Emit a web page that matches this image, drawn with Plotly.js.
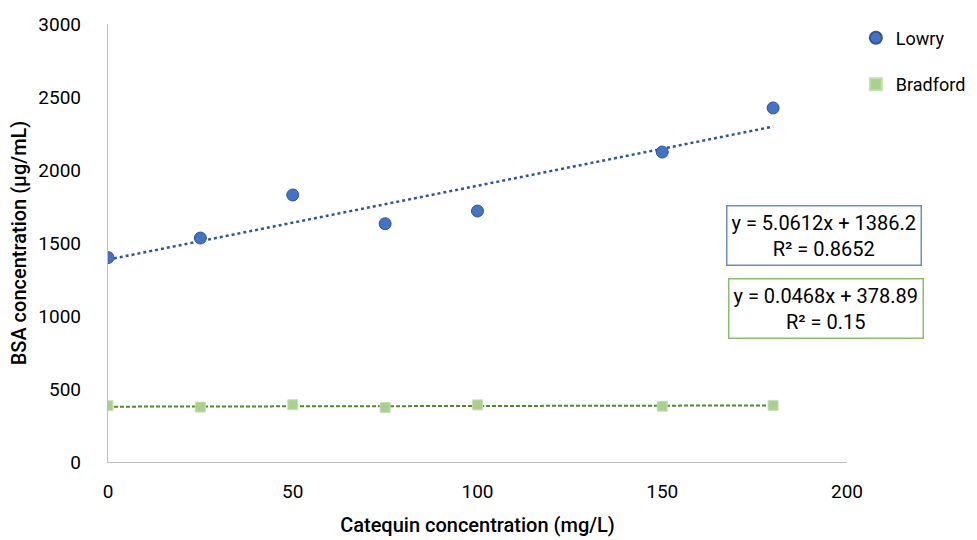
<!DOCTYPE html>
<html>
<head>
<meta charset="utf-8">
<script src="https://cdn.plot.ly/plotly-3.0.1.min.js"></script>
<style>html,body{margin:0;padding:0;background:#fff;}#chart{width:977px;height:540px;}</style>
</head>
<body>
<div id="chart"></div>
<script>
const catequin = [0, 25, 50, 75, 100, 150, 180];
const lowry = [1400, 1534, 1829, 1632, 1719, 2123, 2425];
const bradford = [386, 376, 392, 374, 391, 382, 388];
const lowrySlope = 5.0612, lowryIntercept = 1386.2, lowryR2 = 0.8652;
const bradSlope = 0.0468, bradIntercept = 378.89, bradR2 = 0.15;
const xTicks = [0, 50, 100, 150, 200];
const yTicks = [0, 500, 1000, 1500, 2000, 2500, 3000];

const fitX = [catequin[0], catequin[catequin.length - 1]];
const FONT = 'Roboto, "Liberation Sans", sans-serif';

const traces = [
  {x: fitX, y: fitX.map(v => lowrySlope * v + lowryIntercept), mode: 'lines', showlegend: false, hoverinfo: 'skip',
   line: {color: '#2E55A0', width: 2.5, dash: 'dot'}},
  {x: fitX, y: fitX.map(v => bradSlope * v + bradIntercept), mode: 'lines', showlegend: false, hoverinfo: 'skip',
   line: {color: '#4E8A2E', width: 2, dash: '4px,2px'}},
  {x: catequin, y: lowry, mode: 'markers', name: 'Lowry', legendgroup: 'a',
   marker: {symbol: 'circle', size: 12, color: '#4472C4', line: {color: '#2F5597', width: 1}}},
  {x: catequin, y: bradford, mode: 'markers', name: 'Bradford', legendgroup: 'b',
   marker: {symbol: 'square', size: 10, color: '#A9D18E', line: {color: '#C5E0B4', width: 1}}}
];

const layout = {
  width: 977, height: 540,
  margin: {l: 108, r: 130, t: 24, b: 78, autoexpand: false},
  paper_bgcolor: '#fff', plot_bgcolor: '#fff',
  font: {family: FONT, size: 19, color: '#000'},
  xaxis: {range: [0, 200], tickvals: xTicks, ticktext: xTicks.map(String), showgrid: false, zeroline: false,
          showline: true, linecolor: '#bfbfbf', linewidth: 1.3, ticks: '', ticklabelstandoff: 12,
          tickfont: {family: FONT, size: 19, color: '#000'},
          title: {text: 'Catequin concentration (mg/L)', font: {family: FONT, size: 20, weight: 500, color: '#000'}, standoff: 16}},
  yaxis: {range: [0, 3000], tickvals: yTicks, ticktext: yTicks.map(String), showgrid: false, zeroline: false,
          showline: true, linecolor: '#bfbfbf', linewidth: 1.3, ticks: '', ticklabelstandoff: 22,
          tickfont: {family: FONT, size: 19, color: '#000'},
          title: {text: 'BSA concentration (µg/mL)', font: {family: FONT, size: 20, weight: 500, color: '#000'}, standoff: 6}},
  showlegend: true,
  legend: {x: 1.012, xanchor: 'left', y: 1.01, yanchor: 'top', tracegroupgap: 20, itemsizing: 'constant',
           font: {family: FONT, size: 18, color: '#000'}, bgcolor: 'rgba(0,0,0,0)'},
  annotations: [
    {xref: 'paper', yref: 'paper', x: 0.969, y: 0.518, xanchor: 'center', yanchor: 'middle', showarrow: false,
     text: 'y = ' + lowrySlope + 'x + ' + lowryIntercept + '<br>R² = ' + lowryR2, align: 'center',
     bordercolor: '#6A8CC7', borderwidth: 1.5, borderpad: 4, bgcolor: '#fff',
     font: {family: FONT, size: 20, color: '#000'}},
    {xref: 'paper', yref: 'paper', x: 0.972, y: 0.351, xanchor: 'center', yanchor: 'middle', showarrow: false,
     text: 'y = ' + bradSlope + 'x + ' + bradIntercept + '<br>R² = ' + bradR2, align: 'center',
     bordercolor: '#8CBD6A', borderwidth: 1.5, borderpad: 4, bgcolor: '#fff',
     font: {family: FONT, size: 20, color: '#000'}}
  ]
};

Plotly.newPlot('chart', traces, layout, {displayModeBar: false, responsive: false});
</script>
</body>
</html>
